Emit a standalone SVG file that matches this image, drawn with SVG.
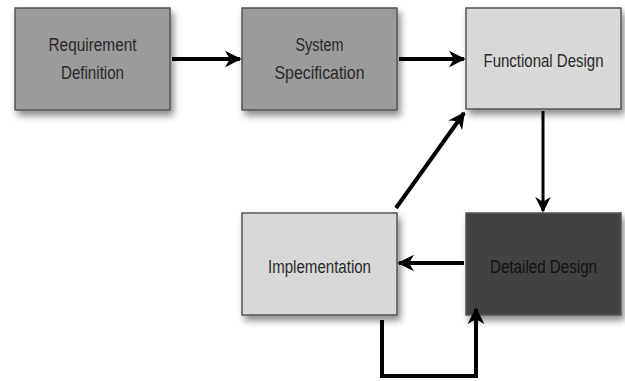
<svg xmlns="http://www.w3.org/2000/svg" width="625" height="381" viewBox="0 0 625 381">
<style>
.box{stroke:#555;stroke-width:1.5;filter:url(#sh)}
.mid{fill:#9b9b9b}
.light{fill:#d8d8d8}
.dark{fill:#424242}
.lbl{font-family:"Liberation Sans",Arial,sans-serif;font-size:18px;fill:#2a2a2a;text-anchor:middle}
.dk{fill:#111}
.ln{fill:none;stroke:#000;stroke-width:4}
.lnt{fill:none;stroke:#000;stroke-width:3}
</style>
<defs>
<filter id="sh" x="-10%" y="-10%" width="130%" height="140%">
<feDropShadow dx="3" dy="5" stdDeviation="3.5" flood-color="#000" flood-opacity="0.45"/>
</filter>
<marker id="ah" viewBox="0 0 10 10" refX="9" refY="5" markerWidth="4.2" markerHeight="4.6" orient="auto" markerUnits="strokeWidth">
<path d="M0,0 L10,5 L0,10 L3,5 Z" fill="#000"/>
</marker>
<marker id="ah2" viewBox="0 0 10 10" refX="9" refY="5" markerWidth="5.2" markerHeight="5.2" orient="auto" markerUnits="strokeWidth">
<path d="M0,0 L10,5 L0,10 L3,5 Z" fill="#000"/>
</marker>
</defs>
<g id="n1"><rect class="box mid" x="15" y="8" width="155" height="102"/><text class="lbl" x="92.5" y="51" textLength="88" lengthAdjust="spacingAndGlyphs">Requirement</text><text class="lbl" x="92.5" y="79" textLength="63" lengthAdjust="spacingAndGlyphs">Definition</text></g>
<g id="n2"><rect class="box mid" x="242" y="8" width="155" height="102"/><text class="lbl" x="319.5" y="51" textLength="48" lengthAdjust="spacingAndGlyphs">System</text><text class="lbl" x="319.5" y="79" textLength="90" lengthAdjust="spacingAndGlyphs">Specification</text></g>
<g id="n3"><rect class="box light" x="466" y="8" width="155" height="101"/><text class="lbl" x="543.5" y="67" textLength="120" lengthAdjust="spacingAndGlyphs">Functional Design</text></g>
<g id="n4"><rect class="box light" x="242" y="213" width="155" height="102"/><text class="lbl" x="319.5" y="273" textLength="103" lengthAdjust="spacingAndGlyphs">Implementation</text></g>
<g id="n5"><rect class="box dark" x="466" y="213" width="155" height="102"/><text class="lbl dk" x="543.5" y="273" textLength="107" lengthAdjust="spacingAndGlyphs">Detailed Design</text></g>
<g id="connectors">
<line class="ln" x1="172" y1="59" x2="240" y2="59" marker-end="url(#ah)"/>
<line class="ln" x1="399" y1="59" x2="464" y2="59" marker-end="url(#ah)"/>
<line class="lnt" x1="543" y1="111" x2="543" y2="211" marker-end="url(#ah2)"/>
<line class="ln" x1="464" y1="263" x2="399" y2="263" marker-end="url(#ah)"/>
<line class="ln" x1="396" y1="208" x2="464" y2="113" marker-end="url(#ah)"/>
<polyline class="ln" points="382,320 382,376 476,376 476,309" marker-end="url(#ah)"/>
</g>
</svg>
